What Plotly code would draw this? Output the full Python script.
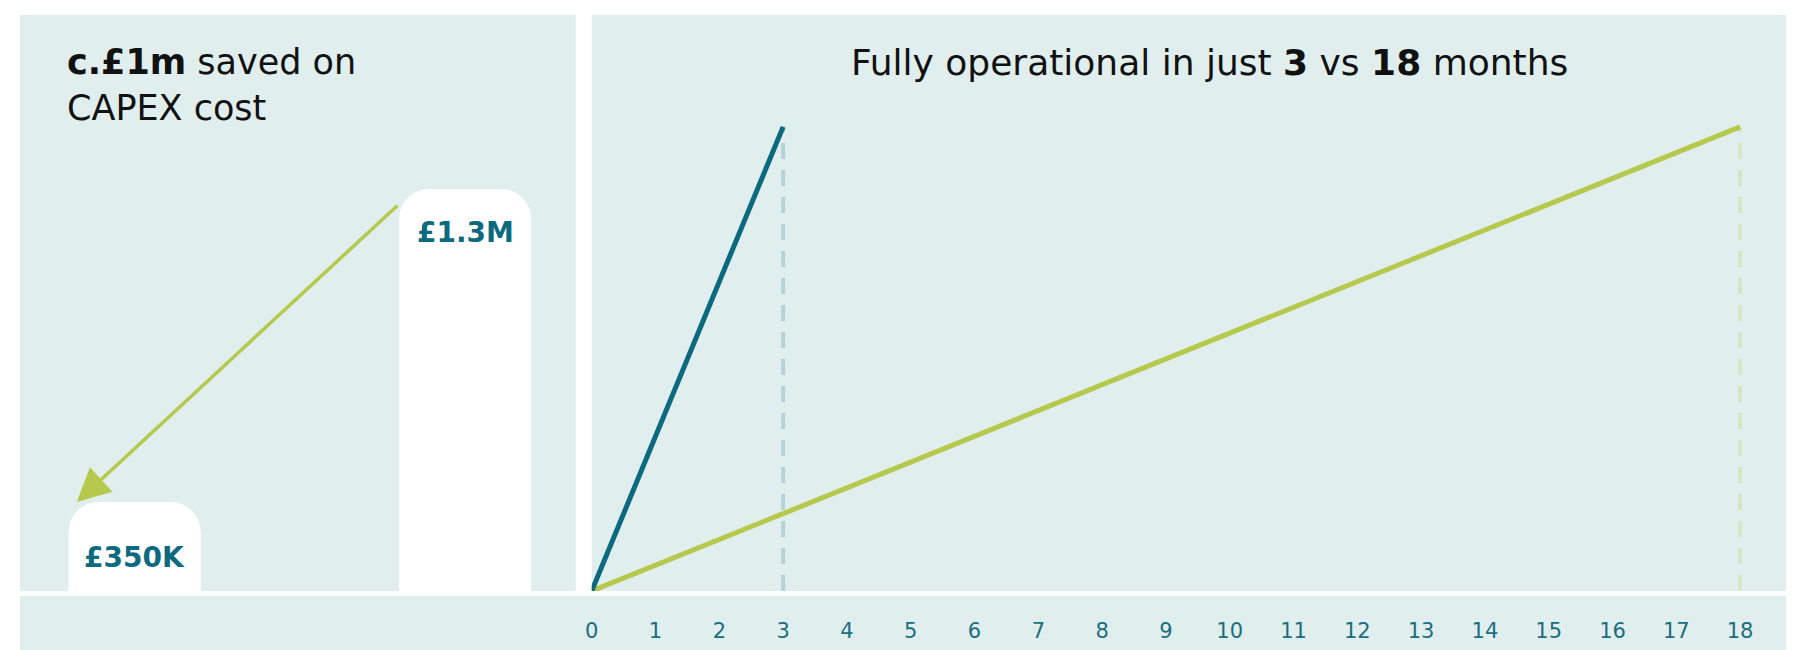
import plotly.graph_objects as go

# ---------------- data ----------------
capex_categories = ["New approach", "Traditional"]
capex_values = [350, 1300]            # £ thousands
capex_labels = ["£350K", "£1.3M"]

month_ticks = list(range(0, 19))
fast_months = [0, 3]
fast_progress = [0, 100]
slow_months = [0, 18]
slow_progress = [0, 100]

# ---------------- styling ----------------
W, H = 1800, 650
PANEL = "#E0EEEE"
TEAL = "#0B6A7E"
GREEN = "#B6C94C"
DASH_TEAL = "#B4D2D7"
DASH_GREEN = "#D7E6C6"
FONT = "DejaVu Sans"

def px(x):
    return x / W

def py(y):
    return 1 - y / H

fig = go.Figure()

# dashed guide lines (beneath the main lines)
fig.add_trace(go.Scatter(x=[fast_months[-1]] * 2, y=fast_progress, mode="lines",
                         line=dict(color=DASH_TEAL, width=4, dash="16px,11px"),
                         xaxis="x2", yaxis="y2", hoverinfo="skip"))
fig.add_trace(go.Scatter(x=[slow_months[-1]] * 2, y=slow_progress, mode="lines",
                         line=dict(color=DASH_GREEN, width=4, dash="16px,11px"),
                         xaxis="x2", yaxis="y2", hoverinfo="skip"))
# progress lines
fig.add_trace(go.Scatter(x=slow_months, y=slow_progress, mode="lines",
                         line=dict(color=GREEN, width=5),
                         xaxis="x2", yaxis="y2"))
fig.add_trace(go.Scatter(x=fast_months, y=fast_progress, mode="lines",
                         line=dict(color=TEAL, width=5),
                         xaxis="x2", yaxis="y2"))

# CAPEX bars
BAR_W = 0.4
fig.add_trace(go.Bar(x=capex_categories, y=capex_values, width=BAR_W,
                     marker=dict(color="white", line=dict(width=0), cornerradius=30),
                     xaxis="x", yaxis="y", hoverinfo="skip"))

annotations = []
label_shift = [-55, -44]
for i, (cat, v, lab) in enumerate(zip(capex_categories, capex_values, capex_labels)):
    annotations.append(dict(x=i, y=v, xref="x", yref="y", text=f"<b>{lab}</b>",
                            showarrow=False, yanchor="middle", yshift=label_shift[i],
                            font=dict(family=FONT, size=28, color=TEAL)))

# arrow from big bar to small bar
annotations.append(dict(
    x=0 - BAR_W / 2 + 0.025, y=capex_values[0], xref="x", yref="y",
    ax=1 - BAR_W / 2, ay=capex_values[1] - 46, axref="x", ayref="y",
    showarrow=True, arrowhead=2, arrowsize=1.9, arrowwidth=3.5,
    arrowcolor=GREEN, standoff=0, text=""))

# titles
annotations.append(dict(x=px(58), y=py(40), xref="paper", yref="paper",
                        xanchor="left", yanchor="top", align="left", showarrow=False,
                        text="<b>c.£1m</b> saved on<br>CAPEX cost",
                        font=dict(family=FONT, size=35, color="#111111")))
annotations.append(dict(x=px(1207), y=py(63), xref="paper", yref="paper",
                        xanchor="center", yanchor="middle", showarrow=False,
                        text="Fully operational in just <b>3</b> vs <b>18</b> months",
                        font=dict(family=FONT, size=36, color="#111111")))

shapes = [
    dict(type="rect", xref="paper", yref="paper", x0=px(13), x1=px(571), y0=py(591), y1=py(15),
         fillcolor=PANEL, line=dict(width=0), layer="below"),
    dict(type="rect", xref="paper", yref="paper", x0=px(587), x1=px(1786), y0=py(591), y1=py(15),
         fillcolor=PANEL, line=dict(width=0), layer="below"),
    dict(type="rect", xref="paper", yref="paper", x0=px(13), x1=px(1786), y0=0, y1=py(596),
         fillcolor=PANEL, line=dict(width=0), layer="below"),
]

ydom = [py(591), py(15)]
fig.update_layout(
    width=W, height=H, margin=dict(l=0, r=0, t=0, b=0),
    paper_bgcolor="white", plot_bgcolor="rgba(0,0,0,0)",
    showlegend=False, font=dict(family=FONT),
    xaxis=dict(domain=[px(13), px(571)], type="category", categoryarray=capex_categories,
               range=[-0.347, 1.335], showticklabels=False, showgrid=False,
               zeroline=False, showline=False, fixedrange=True),
    yaxis=dict(domain=ydom, range=[80, 1828], showticklabels=False, showgrid=False,
               zeroline=False, showline=False, fixedrange=True),
    xaxis2=dict(domain=[px(587), px(1786)], anchor="y2", range=[0, 18.72],
                tickmode="array", tickvals=month_ticks, ticktext=[str(m) for m in month_ticks],
                ticks="outside", ticklen=21, tickcolor="rgba(0,0,0,0)",
                tickfont=dict(family=FONT, size=21, color="#1B6E80"),
                showgrid=False, zeroline=False, showline=False),
    yaxis2=dict(domain=ydom, anchor="x2", range=[0, 124.1], showticklabels=False,
                showgrid=False, zeroline=False, showline=False),
    annotations=annotations, shapes=shapes,
)

fig.write_html("out.html", config={"displayModeBar": False},
               post_script="document.body.style.margin='0';document.body.style.overflow='hidden';")
